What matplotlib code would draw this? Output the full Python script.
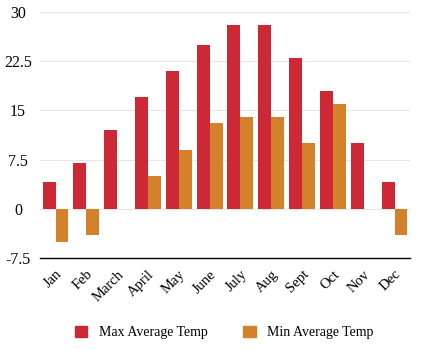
import numpy as np
import matplotlib.pyplot as plt
from matplotlib.patches import Patch

months = ["Jan", "Feb", "March", "April", "May", "June", "July", "Aug",
          "Sept", "Oct", "Nov", "Dec"]
max_temp = [4, 7, 12, 17, 21, 25, 28, 28, 23, 18, 10, 4]
min_temp = [-5, -4, 0, 5, 9, 13, 14, 14, 10, 16, 0, -4]
y_ticks = [-7.5, 0, 7.5, 15, 22.5, 30]
y_tick_labels = ["-7.5", "0", "7.5", "15", "22.5", "30"]

red = "#cc2836"
orange = "#d3822b"

plt.rcParams["font.family"] = ["Liberation Serif", "DejaVu Serif"]

fig = plt.figure(figsize=(4.27, 3.5), dpi=100)
ax = fig.add_axes([0.094, 0.263, 0.866, 0.703])

x = np.arange(len(months))
w = 0.42
ax.bar(x - w / 2, max_temp, width=w, color=red, label="Max Average Temp")
ax.bar(x + w / 2, min_temp, width=w, color=orange, label="Min Average Temp")

ax.set_xlim(-0.5, len(months) - 0.5)
ax.set_ylim(-7.5, 30)
ax.set_yticks(y_ticks)
ax.set_yticklabels(y_tick_labels, fontsize=11.5)
ax.set_xticks(x)
ax.set_xticklabels(months, rotation=45, ha="right", rotation_mode="anchor", fontsize=10.5)
ax.tick_params(length=0)
ax.tick_params(axis="x", pad=7)
ax.tick_params(axis="y", pad=16)
for t in ax.get_yticklabels():
    t.set_horizontalalignment("center")

ax.grid(axis="y", color="#e6e6e6", linewidth=0.8)
ax.set_axisbelow(True)
for s in ["top", "right", "left"]:
    ax.spines[s].set_visible(False)
ax.spines["bottom"].set_color("black")
ax.spines["bottom"].set_linewidth(1.0)

handles = [Patch(color=red, label="Max Average Temp"),
           Patch(color=orange, label="Min Average Temp")]
fig.legend(handles=handles, loc="center", bbox_to_anchor=(0.525, 0.05), ncol=2,
           frameon=False, fontsize=10, handlelength=0.9, handleheight=0.9,
           columnspacing=2.6, handletextpad=0.8)

fig.savefig("out.png", dpi=100)
